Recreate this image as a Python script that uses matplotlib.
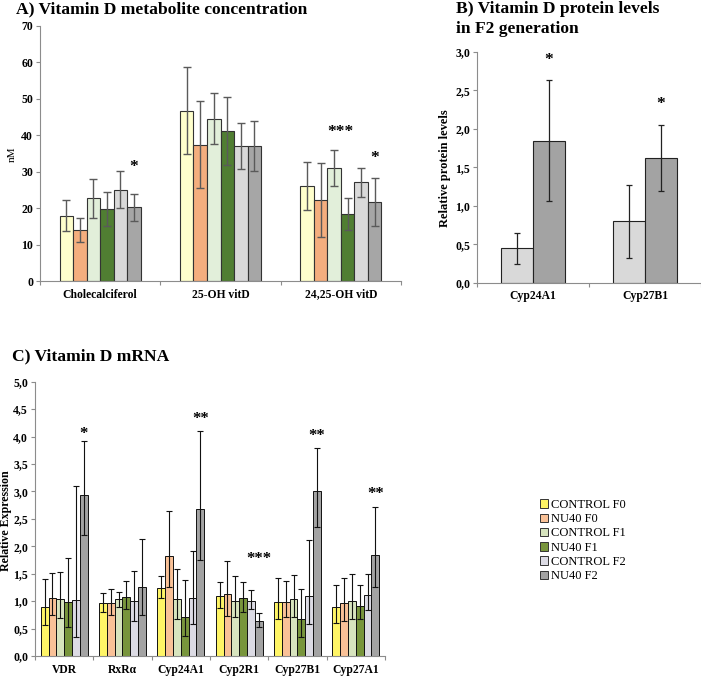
import numpy as np
import matplotlib.pyplot as plt
from matplotlib.patches import Patch
from matplotlib.ticker import FuncFormatter

plt.rcParams['font.family'] = ['Liberation Serif', 'DejaVu Serif']

W, H = 701, 676

groups = ['CONTROL F0', 'NU40 F0', 'CONTROL F1', 'NU40 F1', 'CONTROL F2', 'NU40 F2']

# A) vitamin D metabolites (nM), one row per metabolite, one value per group
metabolites = ['Cholecalciferol', '25-OH vitD', '24,25-OH vitD']
metab_mean = [
    [17.9, 14.0, 22.7, 19.7, 25.1, 20.2],
    [46.8, 37.4, 44.6, 41.2, 37.1, 37.1],
    [26.1, 22.2, 31.0, 18.4, 27.1, 21.7],
]
metab_err = [
    [4.2, 3.3, 5.4, 4.6, 5.0, 3.8],
    [12.0, 12.0, 7.0, 9.4, 6.4, 6.8],
    [6.7, 10.1, 5.0, 4.3, 4.0, 6.5],
]
# (metabolite, bar index or None for group centre, y, text)
metab_stars = [(0, 5, 31.4, '*'), (2, None, 41.0, '***'), (2, 5, 33.8, '*')]

# B) protein levels in F2
prot_genes = ['Cyp24A1', 'Cyp27B1']
prot_control = [0.445, 0.80]
prot_control_err = [0.20, 0.475]
prot_nu40 = [1.845, 1.62]
prot_nu40_err = [0.79, 0.43]
prot_stars = [2.89, 2.32]

# C) mRNA relative expression, mean with lower / upper error bar ends
mrna_genes = ['VDR', 'RxR\u03b1', 'Cyp24A1', 'Cyp2R1', 'Cyp27B1', 'Cyp27A1']
mrna_mean = [
    [0.90, 1.06, 1.04, 0.99, 1.02, 2.94],
    [0.97, 0.97, 1.03, 1.07, 1.00, 1.26],
    [1.245, 1.83, 1.03, 0.72, 1.05, 2.68],
    [1.09, 1.13, 1.01, 1.05, 1.00, 0.63],
    [0.98, 0.99, 1.03, 0.67, 1.10, 3.00],
    [0.89, 0.96, 1.00, 0.92, 1.12, 1.85],
]
mrna_low = [
    [0.565, 0.75, 0.69, 0.53, 0.34, 2.20],
    [0.81, 0.75, 0.89, 0.85, 0.63, 0.74],
    [1.06, 1.26, 0.67, 0.37, 0.58, 1.75],
    [0.87, 0.73, 0.72, 0.81, 0.85, 0.52],
    [0.67, 0.72, 0.72, 0.35, 0.58, 2.36],
    [0.60, 0.64, 0.67, 0.67, 0.83, 1.26],
]
mrna_high = [
    [1.40, 1.52, 1.54, 1.79, 3.09, 3.92],
    [1.15, 1.23, 1.16, 1.36, 1.55, 2.14],
    [1.46, 2.64, 1.58, 1.39, 1.91, 4.11],
    [1.34, 1.74, 1.45, 1.35, 1.20, 0.78],
    [1.43, 1.36, 1.47, 1.23, 2.11, 3.80],
    [1.29, 1.42, 1.49, 1.29, 1.49, 2.71],
]
mrna_stars = [(0, 4.04, '*'), (2, 4.32, '**'), (3, 1.77, '***'), (4, 4.01, '**'), (5, 2.95, '**')]

colors_a = ['#FFFFCC', '#F4AE7E', '#E2EFDA', '#507E32', '#D9D9D9', '#A6A6A6']
colors_c = ['#FFF566', '#F9C197', '#D7E4BE', '#78953C', '#DCDBE4', '#A3A3A3']
colors_b = ['#D9D9D9', '#A3A3A3']


def px_axes(fig, left, top, right, bottom):
    return fig.add_axes([left / W, 1 - bottom / H, (right - left) / W, (bottom - top) / H])


def style_axes(ax, ncat, labels):
    for s in ['top', 'right']:
        ax.spines[s].set_visible(False)
    for s in ['left', 'bottom']:
        ax.spines[s].set_color('#8c8c8c')
        ax.spines[s].set_linewidth(0.8)
    ax.set_xlim(-0.5, ncat - 0.5)
    ax.set_xticks(range(ncat))
    ax.set_xticklabels(labels, fontsize=8.4, fontweight='bold')
    ax.set_xticks(np.arange(-0.5, ncat, 1.0), minor=True)
    ax.tick_params(axis='x', which='major', length=0, pad=5.5)
    ax.tick_params(axis='x', which='minor', length=3, color='#8c8c8c', width=0.8)
    ax.tick_params(axis='y', length=3, color='#8c8c8c', width=0.8, labelsize=8.5, pad=2)
    for t in ax.get_yticklabels():
        t.set_fontweight('bold')


fig = plt.figure(figsize=(W / 100, H / 100), dpi=100)

# ---- A
axA = px_axes(fig, 40, 26, 401, 281)
wA = 0.1125
x = np.arange(len(metabolites))
for i in range(len(groups)):
    axA.bar(x + (i - 2.5) * wA, [m[i] for m in metab_mean], wA,
            yerr=[e[i] for e in metab_err], color=colors_a[i], edgecolor='#333333',
            linewidth=0.8, error_kw=dict(ecolor='#5a5a5a', elinewidth=1.0, capsize=2.8, capthick=1.0))
axA.set_ylim(0, 70)
axA.set_yticks(range(0, 71, 10))
style_axes(axA, len(metabolites), metabolites)
for cat, bar, y, txt in metab_stars:
    xs = cat if bar is None else cat + (bar - 2.5) * wA
    axA.text(xs, y, txt, ha='center', va='center', fontsize=12.5, fontweight='bold')

# ---- B
axB = px_axes(fig, 477, 51.7, 701, 282.7)
wB = 0.286
xb = np.arange(len(prot_genes))
axB.bar(xb - wB / 2, prot_control, wB, yerr=prot_control_err, color=colors_b[0],
        edgecolor='#222222', linewidth=0.8,
        error_kw=dict(ecolor='#222222', elinewidth=0.9, capsize=2.5, capthick=0.9))
axB.bar(xb + wB / 2, prot_nu40, wB, yerr=prot_nu40_err, color=colors_b[1],
        edgecolor='#222222', linewidth=0.8,
        error_kw=dict(ecolor='#222222', elinewidth=0.9, capsize=2.5, capthick=0.9))
axB.set_ylim(0, 3.0)
axB.set_yticks(np.arange(0, 3.01, 0.5))
axB.yaxis.set_major_formatter(FuncFormatter(lambda v, p: f'{v:.1f}'.replace('.', ',')))
style_axes(axB, len(prot_genes), prot_genes)
for i, y in enumerate(prot_stars):
    axB.text(xb[i] + wB / 2, y, '*', ha='center', va='center', fontsize=12.5, fontweight='bold')

# ---- C
axC = px_axes(fig, 35, 381.7, 385, 656)
wC = 0.134
xc = np.arange(len(mrna_genes))
for i in range(len(groups)):
    mean = np.array([m[i] for m in mrna_mean])
    lo = np.array([m[i] for m in mrna_low])
    hi = np.array([m[i] for m in mrna_high])
    axC.bar(xc + (i - 2.5) * wC, mean, wC, yerr=[mean - lo, hi - mean],
            color=colors_c[i], edgecolor='#111111', linewidth=0.7, label=groups[i],
            error_kw=dict(ecolor='#111111', elinewidth=0.8, capsize=2.2, capthick=0.8))
axC.set_ylim(0, 5.0)
axC.set_yticks(np.arange(0, 5.01, 0.5))
axC.yaxis.set_major_formatter(FuncFormatter(lambda v, p: f'{v:.1f}'.replace('.', ',')))
style_axes(axC, len(mrna_genes), mrna_genes)
for cat, y, txt in mrna_stars:
    axC.text(cat + 2.5 * wC, y, txt, ha='center', va='center', fontsize=12, fontweight='bold')

handles = [Patch(facecolor=colors_c[i], edgecolor='#333333', linewidth=0.7, label=groups[i])
           for i in range(len(groups))]
fig.legend(handles=handles, loc='upper left', bbox_to_anchor=(540 / W, 1 - 499 / H),
           frameon=False, fontsize=9, handlelength=0.65, handleheight=0.65,
           handletextpad=0.25, labelspacing=0.18, borderpad=0, borderaxespad=0)

# titles and axis labels
fig.text(16 / W, 1 - 13 / H, 'A) Vitamin D metabolite concentration', fontsize=12.6,
         fontweight='bold', va='baseline', ha='left')
fig.text(456 / W, 1 - 13 / H, 'B) Vitamin D protein levels', fontsize=12.6,
         fontweight='bold', va='baseline', ha='left')
fig.text(456 / W, 1 - 33 / H, 'in F2 generation', fontsize=12.6,
         fontweight='bold', va='baseline', ha='left')
fig.text(12 / W, 1 - 360 / H, 'C) Vitamin D mRNA', fontsize=12.6,
         fontweight='bold', va='baseline', ha='left')

fig.text(12 / W, 1 - 154 / H, 'nM', rotation=90, fontsize=8, ha='center', va='center')
fig.text(445 / W, 1 - 168 / H, 'Relative protein levels', rotation=90, fontsize=9,
         fontweight='bold', ha='center', va='center')
fig.text(6 / W, 1 - 521 / H, 'Relative Expression', rotation=90, fontsize=8.6,
         fontweight='bold', ha='center', va='center')

fig.savefig('out.png', dpi=100)
